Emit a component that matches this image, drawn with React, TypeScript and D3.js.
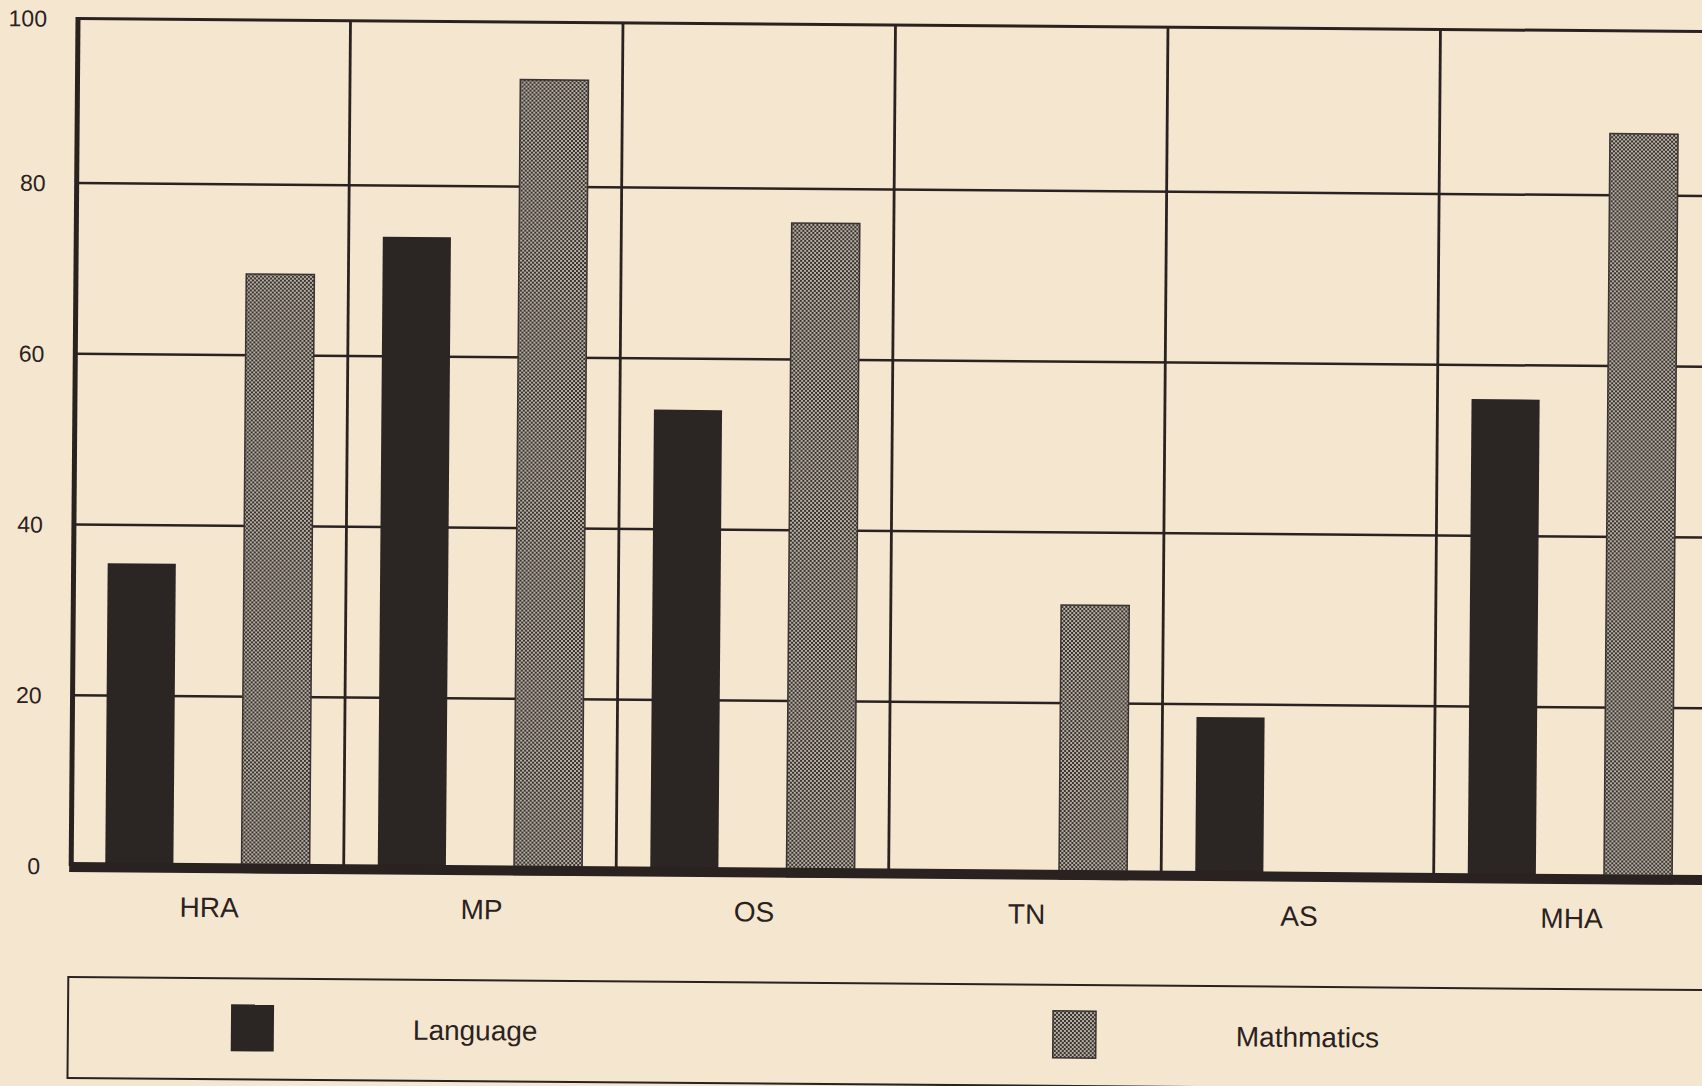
import React from 'react';
import * as d3 from 'd3';

// Scores by region, two subjects
const categories = ['HRA', 'MP', 'OS', 'TN', 'AS', 'MHA'];
const seriesNames = ['Language', 'Mathmatics'];
const languageValues = [35.5, 74, 54, 0, 18.5, 56];
const mathmaticsValues = [69.5, 93, 76, 31.5, 0, 87.5];
const yTickValues = [0, 20, 40, 60, 80, 100];

const W = 1702;
const H = 1086;
const plotLeft = 78;
const plotTop = 18.5;
const plotBottom = 866;
const row80 = 183; // the printed top band is a little shorter than the others
const cellWidth = 272.5;
const tiltDeg = 0.46;

const paper = '#f5e6d0';
const ink = '#2a2220';
const darkFill = '#2b2523';
const font = '"Liberation Sans", Arial, sans-serif';

export default function App() {
  const plotRight = plotLeft + cellWidth * categories.length;
  const x0 = d3.scaleBand<string>().domain(categories).range([plotLeft, plotRight]).padding(0);
  const x1 = d3
    .scaleBand<string>()
    .domain(seriesNames)
    .range([0, x0.bandwidth()])
    .paddingInner(0.5)
    .paddingOuter(0.25);
  const y = d3.scaleLinear().domain([0, 80, 100]).range([plotBottom, row80, plotTop]);

  const valuesBySeries: Record<string, number[]> = {
    Language: languageValues,
    Mathmatics: mathmaticsValues,
  };
  const fillFor = (s: string) => (s === 'Language' ? darkFill : 'url(#checker)');

  const legendTop = 977;
  const legendBottom = 1078;
  const legendItems = [
    { name: 'Language', swatchX: 239, textX: 421 },
    { name: 'Mathmatics', swatchX: 1061, textX: 1244 },
  ];

  return (
    <svg
      width={W}
      height={H}
      style={{ position: 'absolute', left: 0, top: 0, display: 'block' }}
      fontFamily={font}
    >
      <defs>
        <pattern id="checker" width="4" height="4" patternUnits="userSpaceOnUse">
          <rect width="4" height="4" fill="#b8b0a4" />
          <rect x="0" y="0" width="2" height="2" fill="#38322f" />
          <rect x="2" y="2" width="2" height="2" fill="#38322f" />
        </pattern>
      </defs>
      <rect width={W} height={H} fill={paper} />
      <g transform={`rotate(${tiltDeg}, ${plotLeft}, ${plotTop})`}>
        {/* horizontal grid */}
        {yTickValues
          .filter((t) => t > 0)
          .map((t) => (
            <line
              key={'h' + t}
              x1={plotLeft}
              x2={plotRight}
              y1={y(t)}
              y2={y(t)}
              stroke={ink}
              strokeWidth={t === 100 ? 3 : 2.5}
            />
          ))}
        {/* vertical grid at category boundaries */}
        {categories.slice(1).map((c) => (
          <line
            key={'v' + c}
            x1={x0(c)!}
            x2={x0(c)!}
            y1={y(100)}
            y2={y(0)}
            stroke={ink}
            strokeWidth={2.8}
          />
        ))}
        <line x1={plotRight} x2={plotRight} y1={y(100)} y2={y(0)} stroke={ink} strokeWidth={2.8} />

        {/* bars */}
        {seriesNames.map((s) =>
          categories.map((c, i) => {
            const v = valuesBySeries[s][i];
            if (v <= 0) return null;
            const bx = x0(c)! + x1(s)!;
            return (
              <rect
                key={s + c}
                x={bx}
                y={y(v)}
                width={x1.bandwidth()}
                height={y(0) - y(v) + 5}
                fill={fillFor(s)}
                stroke={s === 'Language' ? darkFill : '#3a3330'}
                strokeWidth={s === 'Language' ? 0 : 1.5}
              />
            );
          })
        )}

        {/* axes */}
        <line x1={plotLeft} x2={plotLeft} y1={y(100) - 1.5} y2={y(0)} stroke={ink} strokeWidth={5} />
        <line x1={plotLeft - 2} x2={plotRight} y1={y(0) + 1} y2={y(0) + 1} stroke={ink} strokeWidth={10} />

        {/* y tick labels */}
        {yTickValues.map((t) => (
          <text
            key={'t' + t}
            x={plotLeft - 31}
            y={y(t)}
            dy="0.36em"
            textAnchor="end"
            fontSize={23}
            fill={ink}
          >
            {t}
          </text>
        ))}

        {/* category labels */}
        {categories.map((c) => (
          <text
            key={'c' + c}
            x={x0(c)! + x0.bandwidth() / 2 + 2}
            y={916}
            textAnchor="middle"
            fontSize={28}
            fill={ink}
          >
            {c}
          </text>
        ))}

        {/* legend */}
        <rect
          x={76}
          y={legendTop}
          width={W}
          height={legendBottom - legendTop}
          fill="none"
          stroke={ink}
          strokeWidth={2}
        />
        {legendItems.map((it) => (
          <g key={it.name}>
            <rect
              x={it.swatchX}
              y={1003}
              width={43}
              height={47}
              fill={fillFor(it.name)}
              stroke={it.name === 'Language' ? darkFill : '#3a3330'}
              strokeWidth={it.name === 'Language' ? 0 : 1.5}
            />
            <text x={it.textX} y={1037} fontSize={28} fill={ink}>
              {it.name}
            </text>
          </g>
        ))}
      </g>
    </svg>
  );
}
